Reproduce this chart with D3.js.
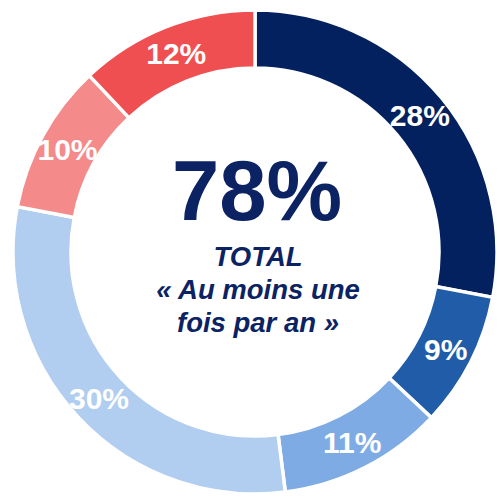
<!DOCTYPE html>
<html>
<head>
<meta charset="utf-8">
<script src="https://cdn.jsdelivr.net/npm/d3@7"></script>
<style>
  body { margin: 0; background: #fff; }
  svg { display: block; }
</style>
</head>
<body>
<div id="vis"></div>
<script>
const FRAME_WIDTH = 497;
const FRAME_HEIGHT = 496;

// data
const categories = ["c1", "c2", "c3", "c4", "c5", "c6"];
const values = [28, 9, 11, 30, 10, 12];
const colors = ["#03215f", "#215ca8", "#7eabe3", "#b1cdf0", "#f48a89", "#ef4f51"];
const totalValue = "78%";
const centerLines = ["TOTAL", "« Au moins une", "fois par an »"];

const CX = 255;
const CY = 252;
const OUTER = 242;
const INNER = 184;
const LABEL_R = 214;

const FRAME = d3.select("#vis")
                .append("svg")
                    .attr("width", FRAME_WIDTH)
                    .attr("height", FRAME_HEIGHT);

const G = FRAME.append("g")
               .attr("transform", "translate(" + CX + "," + CY + ")");

const data = categories.map((c, i) => ({cat: c, value: values[i], color: colors[i]}));

const pie = d3.pie()
              .value(d => d.value)
              .sort(null);

const arc = d3.arc()
              .innerRadius(INNER)
              .outerRadius(OUTER);

const labelArc = d3.arc()
                   .innerRadius(LABEL_R)
                   .outerRadius(LABEL_R);

const arcs = pie(data);

// slices
G.selectAll(".slice")
  .data(arcs)
  .enter()
  .append("path")
    .attr("class", "slice")
    .attr("d", arc)
    .attr("fill", d => d.data.color)
    .attr("stroke", "#fff")
    .attr("stroke-width", 3.5);

// slice labels
G.selectAll(".lbl")
  .data(arcs)
  .enter()
  .append("text")
    .attr("class", "lbl")
    .attr("x", d => labelArc.centroid(d)[0])
    .attr("y", d => labelArc.centroid(d)[1])
    .attr("dy", "0.36em")
    .attr("text-anchor", "middle")
    .attr("font-family", "Liberation Sans, Arial, sans-serif")
    .attr("font-weight", "bold")
    .attr("font-size", "30px")
    .attr("fill", "#fff")
    .text(d => d.data.value + "%");

// center text
G.append("text")
  .attr("x", 2)
  .attr("y", -32)
  .attr("text-anchor", "middle")
  .attr("font-family", "Liberation Sans, Arial, sans-serif")
  .attr("font-weight", "bold")
  .attr("font-size", "85px")
  .attr("fill", "#0b2263")
  .text(totalValue);

G.selectAll(".sub")
  .data(centerLines)
  .enter()
  .append("text")
    .attr("class", "sub")
    .attr("x", 3)
    .attr("y", (d, i) => 14 + i * 33)
    .attr("text-anchor", "middle")
    .attr("font-family", "Liberation Sans, Arial, sans-serif")
    .attr("font-weight", "bold")
    .attr("font-style", "italic")
    .attr("font-size", "27.5px")
    .attr("fill", "#0b2263")
    .text(d => d);
</script>
</body>
</html>
